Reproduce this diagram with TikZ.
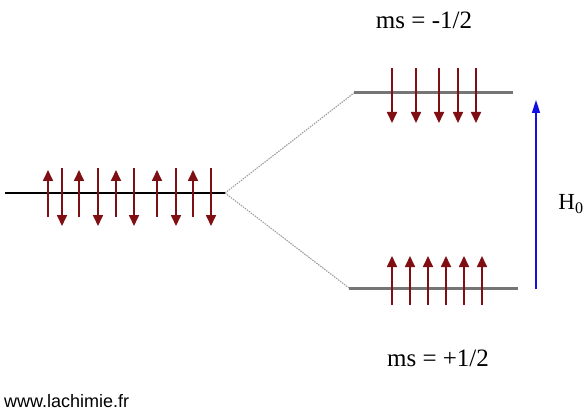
\documentclass[tikz,border=0pt]{standalone}
\usepackage{fontspec}
\setmainfont{Liberation Serif}
\newfontfamily\arialfont{Liberation Sans}
\usetikzlibrary{arrows.meta}
\definecolor{spinred}{HTML}{800F14}
\definecolor{levelgray}{HTML}{757575}
\definecolor{dotgray}{HTML}{A0A0A0}
\definecolor{fieldblue}{HTML}{1010E0}
\tikzset{
  spin/.style={draw=spinred, line width=1.7pt, -{Triangle[width=10pt,length=11pt]}, color=spinred},
  oldlevel/.style={draw=black, line width=1.5pt},
  newlevel/.style={draw=levelgray, line width=3pt},
  split/.style={draw=dotgray, line width=1.1pt, dash pattern=on 1.5pt off 1pt},
  field/.style={draw=fieldblue, line width=1.5pt, -{Triangle[width=8pt,length=13pt]}, color=fieldblue},
  lab/.style={font=\fontsize{25}{27}\selectfont, inner sep=0pt},
}
\begin{document}
\begin{tikzpicture}[x=1pt,y=-1pt]
\useasboundingbox (0,0) rectangle (584,417);
% levels
\coordinate (L0) at (5,193);
\coordinate (L1) at (225,193);
\coordinate (U0) at (354,93);
\coordinate (U1) at (513,93);
\coordinate (D0) at (349,288);
\coordinate (D1) at (518,288);
\draw[split] (L1) -- (U0);
\draw[split] (L1) -- (D0);
\draw[oldlevel] (L0) -- (L1);
\draw[newlevel] (U0) -- (U1);
\draw[newlevel] (D0) -- (D1);
% left mixed spins
\foreach \x in {48,79,116,157,193} \draw[spin] (\x,217) -- (\x,170);
\foreach \x in {62,98,134,176,211} \draw[spin] (\x,168) -- (\x,226);
% upper level: spin down
\foreach \x in {392,416,439,458,476} \draw[spin] (\x,68) -- (\x,123);
% lower level: spin up
\foreach \x in {392,410,428,446,464,482} \draw[spin] (\x,305) -- (\x,256);
% field arrow
\coordinate (F0) at (536,289);
\coordinate (F1) at (536,100);
\draw[field] (F0) -- (F1);
\node[lab, font=\fontsize{23}{25}\selectfont] (h0) at (571,204) {H\textsubscript{0}};
\node[lab] (msm) at (424,20) {ms = -1/2};
\node[lab] (msp) at (438,358) {ms = +1/2};
\node[inner sep=0pt, anchor=west, font=\arialfont\fontsize{18}{20}\selectfont] (www) at (4,401) {www.lachimie.fr};
\end{tikzpicture}
\end{document}
